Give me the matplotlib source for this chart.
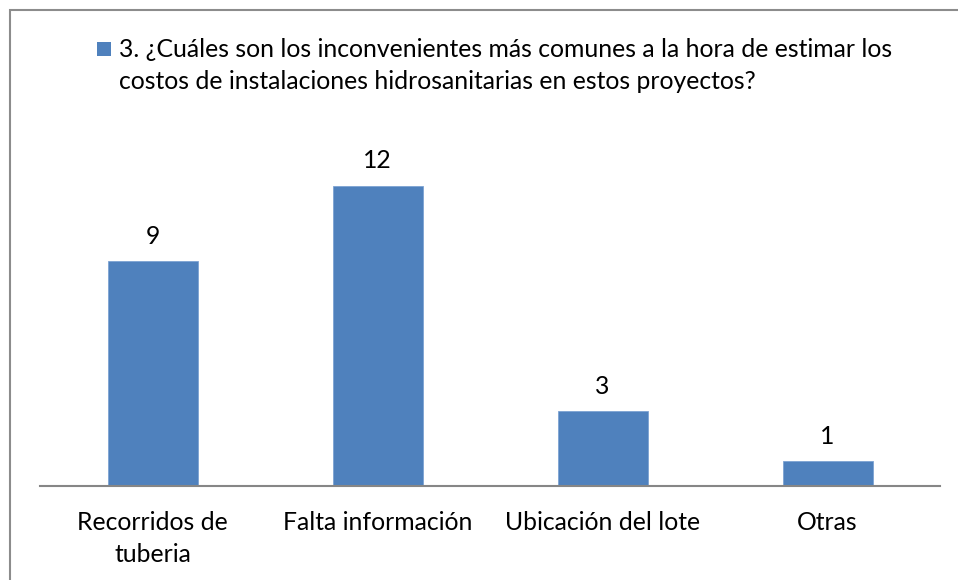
import matplotlib
matplotlib.use('Agg')
import matplotlib.pyplot as plt
from matplotlib.patches import Rectangle


categories = ['Recorridos de\ntuberia', 'Falta información', 'Ubicación del lote', 'Otras']
values = [9, 12, 3, 1]
seriesName = ('3. ¿Cuáles son los inconvenientes más comunes a la hora de estimar los\n'
              'costos de instalaciones hidrosanitarias en estos proyectos?')


def main():
    plt.rcParams['font.family'] = ['Lato', 'DejaVu Sans']
    W, H = 958, 580
    fig = plt.figure(figsize=(W/100, H/100), dpi=100)
    barColor = '#4F81BD'
    fs = 17.8

    #
    # ---- outer frame (cropped at right/bottom)
    fig.patches.append(Rectangle((10/W, -0.1), 1.2, 1.1 - 10/H, transform=fig.transFigure,
                                 fill=False, edgecolor='#8c8c8c', linewidth=1.5))

    #
    # ---- bars
    ax = fig.add_axes([40/W, (H-486)/H, 900/W, 350/H])
    x = list(range(len(categories)))
    bars = ax.bar(x, values, width=0.4, color=barColor, edgecolor='#7da3d3',
                  linewidth=0.6, label=seriesName)
    ax.set_xlim(-0.5, len(categories)-0.5)
    ax.set_ylim(0, 14)
    for b, v in zip(bars, values):
        ax.annotate(str(v), (b.get_x()+b.get_width()/2, v), xytext=(0, 18),
                    textcoords='offset points', ha='center', va='center', fontsize=fs)

    for s in ['top', 'right', 'left']:
        ax.spines[s].set_visible(False)
    ax.spines['bottom'].set_color('#868686')
    ax.spines['bottom'].set_linewidth(1.5)
    ax.set_yticks([])
    ax.set_xticks(x)
    ax.set_xticklabels(categories, fontsize=fs, linespacing=1.45)
    ax.tick_params(axis='x', length=0, pad=18)
    for lbl in ax.get_xticklabels():
        lbl.set_verticalalignment('top')

    #
    # ---- legend (square on first line, as in the original)
    fig.patches.append(Rectangle((97/W, 1-56/H), 14/W, 14/H, transform=fig.transFigure,
                                 facecolor=barColor, edgecolor='none'))
    fig.text(119/W, 1-38/H, seriesName, fontsize=fs, va='top', ha='left',
             linespacing=1.45)

    fig.savefig('out.png', dpi=100)


if __name__ == '__main__':
    main()
